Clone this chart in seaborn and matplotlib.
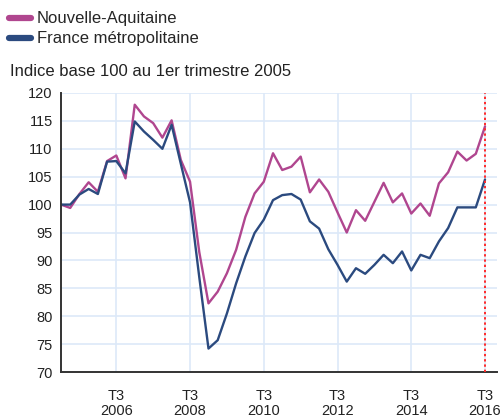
import matplotlib
matplotlib.use("Agg")
import matplotlib.pyplot as plt
import seaborn as sns
import pandas as pd
from matplotlib.lines import Line2D

# Quarterly index, base 100 = 2005 Q1 (2005T1 .. 2016T3)
quarters = [f"{y}T{q}" for y in range(2005, 2017) for q in range(1, 5)][:47]

nouvelle_aquitaine = [
    100.0, 99.4, 101.9, 104.0, 102.3, 107.8, 108.8, 104.7,
    117.9, 115.8, 114.6, 112.0, 115.1, 108.0, 104.1, 91.5,
    82.3, 84.4, 87.7, 91.9, 97.8, 102.0, 104.1, 109.2,
    106.2, 106.8, 108.6, 102.2, 104.5, 102.3, 98.6, 95.0,
    99.0, 97.1, 100.5, 103.9, 100.4, 102.0, 98.4, 100.2,
    98.0, 103.8, 105.8, 109.5, 107.9, 109.1, 114.0,
]
france_metro = [
    100.0, 100.0, 101.8, 102.8, 101.9, 107.7, 107.8, 105.6,
    114.9, 113.1, 111.6, 110.0, 114.3, 107.3, 100.4, 87.0,
    74.2, 75.7, 80.5, 85.9, 90.7, 94.9, 97.3, 100.8,
    101.7, 101.9, 100.9, 97.0, 95.7, 92.0, 89.2, 86.2,
    88.6, 87.6, 89.2, 91.0, 89.5, 91.6, 88.2, 91.0,
    90.4, 93.4, 95.8, 99.5, 99.5, 99.5, 104.5,
]
series_names = ["Nouvelle-Aquitaine", "France métropolitaine"]
tick_quarters = ["2006T3", "2008T3", "2010T3", "2012T3", "2014T3", "2016T3"]
tick_labels = ["T3\n2006", "T3\n2008", "T3\n2010", "T3\n2012", "T3\n2014", "T3\n2016"]
y_ticks = [70, 75, 80, 85, 90, 95, 100, 105, 110, 115, 120]
title_text = "Indice base 100 au 1er trimestre 2005"
last_quarter = "2016T3"

colors = {"Nouvelle-Aquitaine": "#b0468f", "France métropolitaine": "#2b4a7f"}

n = len(quarters)
df = pd.DataFrame({
    "idx": list(range(n)) * 2,
    "valeur": nouvelle_aquitaine + france_metro,
    "serie": [series_names[0]] * n + [series_names[1]] * n,
})

sns.set_theme(style="white")
plt.rcParams["font.family"] = ["Liberation Sans", "DejaVu Sans"]

fig = plt.figure(figsize=(5.01, 4.2), dpi=100)
ax = fig.add_axes([61 / 501, 1 - 372 / 420, (497 - 61) / 501, (372 - 93) / 420])

sns.lineplot(data=df, x="idx", y="valeur", hue="serie", palette=colors,
             hue_order=series_names, linewidth=1.7, ax=ax, legend=False)

pos = {q: i for i, q in enumerate(quarters)}
ax.set_xlim(0, n - 1 + 1.3)
ax.set_ylim(70, 120)
ax.set_xticks([pos[q] for q in tick_quarters])
ax.set_xticklabels(tick_labels, fontsize=10.5, color="#222222", linespacing=1.15)
ax.set_yticks(y_ticks)
ax.set_yticklabels([str(v) for v in y_ticks], fontsize=10.5, color="#222222")
ax.tick_params(axis="both", length=0)
ax.tick_params(axis="x", pad=12)
ax.tick_params(axis="y", pad=6)
ax.set_xlabel("")
ax.set_ylabel("")

ax.grid(True, color="#dde9f8", linewidth=1.2)
ax.set_axisbelow(True)
for s in ["top", "right"]:
    ax.spines[s].set_visible(False)
for s in ["left", "bottom"]:
    ax.spines[s].set_color("#333333")
    ax.spines[s].set_linewidth(1.4)

ax.axvline(pos[last_quarter], color="#ff2a2a", linestyle=(0, (1.2, 1.5)), linewidth=1.4, zorder=5)

handles = [Line2D([0], [0], color=colors[s], linewidth=4.5) for s in series_names]
fig.legend(handles, series_names, loc="upper left", bbox_to_anchor=(6 / 501, 1 - 8 / 420),
           frameon=False, fontsize=12, handlelength=1.3, handletextpad=0.35,
           labelspacing=0.3, borderpad=0.2, borderaxespad=0)

fig.text(10 / 501, 1 - 72 / 420, title_text, fontsize=12, va="center", ha="left", color="#222222")

fig.savefig("out.png", dpi=100)
